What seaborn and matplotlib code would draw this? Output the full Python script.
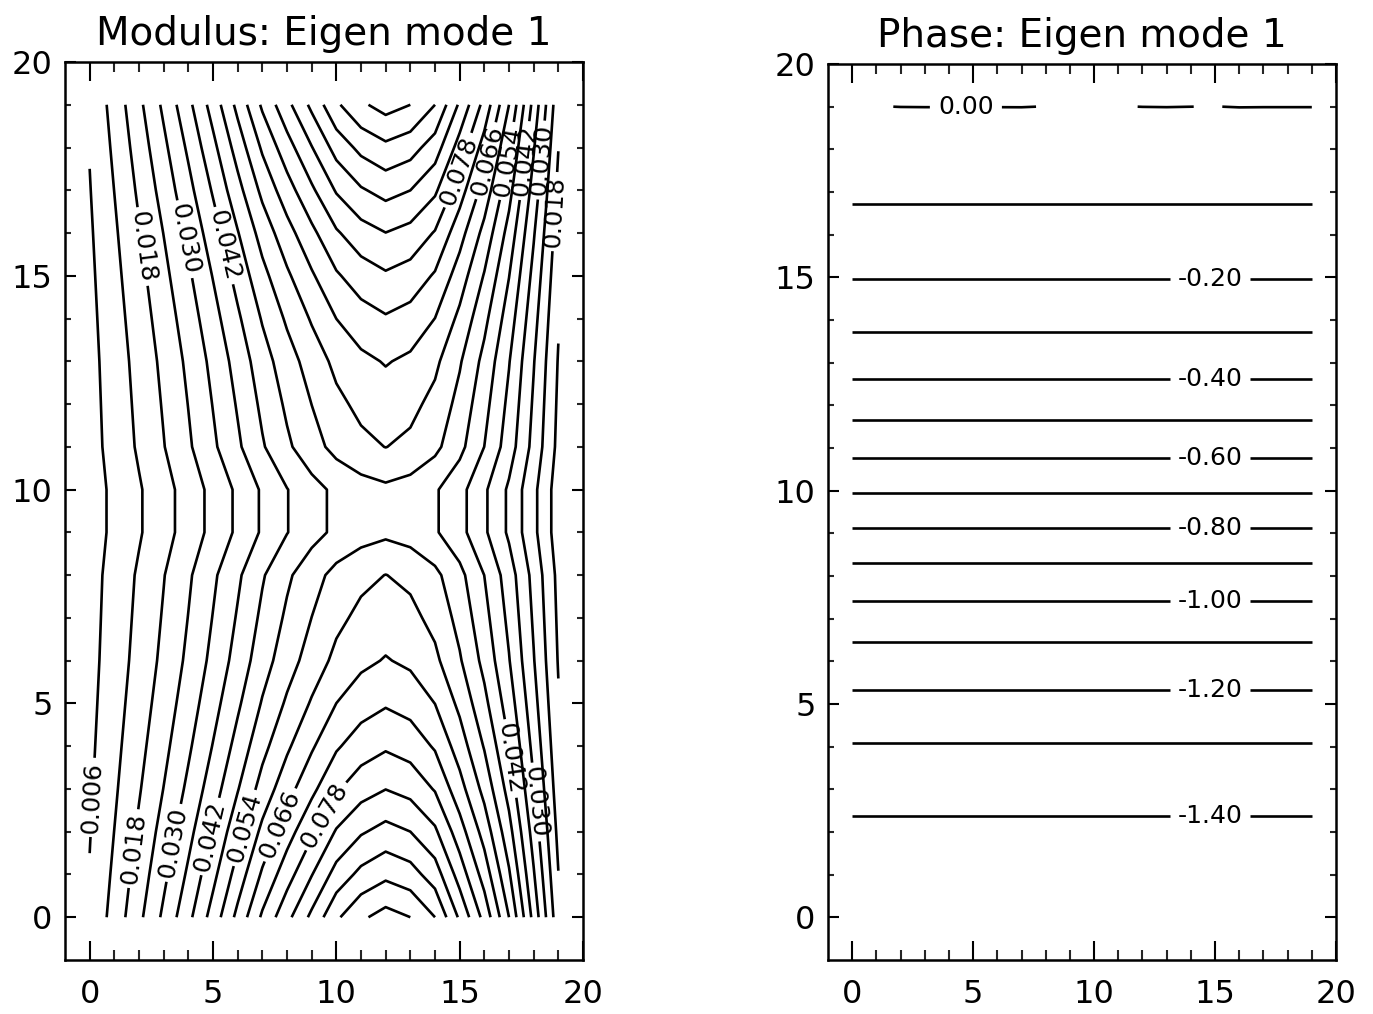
import numpy as np
import matplotlib
matplotlib.use("Agg")
import matplotlib.pyplot as plt
import seaborn as sns
from matplotlib.ticker import FixedLocator

sns.set_theme(style="ticks")
plt.rcParams["font.family"] = ["DejaVu Sans"]

# grid indices (20 x 20 mesh)
grid_x = list(range(20))
grid_y = list(range(20))

# modulus along the bottom/top rows (y = 0 and y = 19)
modulus_edge_row = [0.0069, 0.0143, 0.0226, 0.0312, 0.0404, 0.0505, 0.0617, 0.0730,
                    0.0823, 0.0914, 0.1010, 0.1070, 0.1103, 0.1080, 0.1020, 0.0890,
                    0.0760, 0.0600, 0.0400, 0.0200]
# modulus along the middle rows (y = 9 and y = 10)
modulus_mid_row = [0.0032, 0.0073, 0.0114, 0.0158, 0.0206, 0.0258, 0.0311, 0.0368,
                   0.0418, 0.0459, 0.0493, 0.0515, 0.0528, 0.0515, 0.0487, 0.0440,
                   0.0370, 0.0290, 0.0195, 0.0090]
# modulus down the x = 12 column, y = 0 .. 19
modulus_centre_col = [0.1103, 0.1006, 0.0920, 0.0839, 0.0772, 0.0714, 0.0664, 0.0631,
                      0.0601, 0.0528, 0.0528, 0.0601, 0.0631, 0.0664, 0.0714, 0.0772,
                      0.0839, 0.0920, 0.1006, 0.1103]

# phase per row (independent of x), y = 0 .. 18, and the top row y = 19
phase_rows = [-1.480, -1.452, -1.421, -1.364, -1.306, -1.228, -1.143, -1.046,
              -0.935, -0.816, -0.694, -0.570, -0.462, -0.362, -0.275, -0.196,
              -0.137, -0.085, -0.042]
phase_top_row = [-0.0005, -0.0007, 0.0003, 0.0005, 0.0005, 0.0005, 0.0005, 0.0006,
                 -0.0004, -0.0005, -0.0005, -0.0008, 0.0002, 0.0005, 0.00004, -0.0003,
                 0.0007, 0.0005, 0.0005, 0.0005]

modulus_levels = [round(0.006 * k, 3) for k in range(1, 19)]
modulus_labelled = modulus_levels[::2]
modulus_plain = modulus_levels[1::2]
phase_levels = [round(-0.1 * k, 2) + 0.0 for k in range(14, -1, -1)]
phase_labelled = phase_levels[::2]
phase_plain = phase_levels[1::2]

# label anchor points (data coordinates)
modulus_label_pos = [(0.2, 2.8), (1.85, 1.6), (3.3, 1.75), (4.8, 1.9), (6.2, 2.1),
                     (7.55, 2.2), (9.0, 2.55), (2.35, 15.7), (3.8, 15.85), (5.4, 15.7),
                     (14.8, 17.5), (16.0, 17.7), (16.8, 17.7), (17.55, 17.7),
                     (18.45, 17.7), (18.9, 16.5), (16.9, 3.7), (18.2, 2.7)]
phase_label_pos = [(4.7, 19.0), (14.8, 14.93), (14.8, 12.58), (14.8, 10.73),
                   (14.8, 9.13), (14.8, 7.42), (14.8, 5.35), (14.8, 2.37)]

# build the 2-D fields
edge = np.array(modulus_edge_row)
mid = np.array(modulus_mid_row)
col = np.array(modulus_centre_col)
weight = (col - edge[12]) / (mid[12] - edge[12])
modulus = edge[None, :] + weight[:, None] * (mid - edge)[None, :]

phase = np.tile(np.array(phase_rows)[:, None], (1, len(grid_x)))
phase = np.vstack([phase, np.array(phase_top_row)[None, :]])

fig = plt.figure(figsize=(13.73, 10.14), dpi=100)
ax1 = fig.add_axes([65 / 1373, 1 - 960 / 1014, (583 - 65) / 1373, (960 - 62) / 1014])
ax2 = fig.add_axes([828 / 1373, 1 - 960 / 1014, (1336 - 828) / 1373, (960 - 64) / 1014])

lw = 1.9
style = dict(colors="black", linewidths=lw, linestyles="solid",
             negative_linestyles="solid")
label_style = dict(inline=True, fontsize=18, colors="black")

ax1.contour(grid_x, grid_y, modulus, levels=modulus_plain, **style)
cs1 = ax1.contour(grid_x, grid_y, modulus, levels=modulus_labelled, **style)
ax1.clabel(cs1, manual=modulus_label_pos, fmt="%.3f", inline_spacing=8, **label_style)

ax2.contour(grid_x, grid_y, phase, levels=phase_plain, **style)
cs2 = ax2.contour(grid_x, grid_y, phase, levels=phase_labelled, **style)
ax2.clabel(cs2, manual=phase_label_pos, fmt="%.2f", inline_spacing=12, **label_style)

for ax, title in [(ax1, "Modulus: Eigen mode 1"), (ax2, "Phase: Eigen mode 1")]:
    ax.set_xlim(-1, 20)
    ax.set_ylim(-1, 20)
    ax.set_facecolor("white")
    ax.xaxis.set_major_locator(FixedLocator([0, 5, 10, 15, 20]))
    ax.yaxis.set_major_locator(FixedLocator([0, 5, 10, 15, 20]))
    minors = [v for v in range(1, 20) if v % 5 != 0]
    ax.xaxis.set_minor_locator(FixedLocator(minors))
    ax.yaxis.set_minor_locator(FixedLocator(minors))
    ax.tick_params(axis="x", which="major", direction="in", length=14, width=1.5,
                   top=True, bottom=True, labelsize=23, pad=14, colors="black")
    ax.tick_params(axis="x", which="minor", direction="in", length=7, width=1.5,
                   top=True, bottom=True)
    ax.tick_params(axis="y", which="major", direction="in", length=8, width=1.5,
                   left=True, right=True, labelsize=23, pad=9, colors="black")
    ax.tick_params(axis="y", which="minor", direction="in", length=4, width=1.5,
                   left=True, right=True)
    for s in ax.spines.values():
        s.set_color("black")
        s.set_linewidth(1.8)
    ax.set_title(title, fontsize=28, pad=12, color="black")

fig.savefig("out.png", dpi=100, facecolor="white")
